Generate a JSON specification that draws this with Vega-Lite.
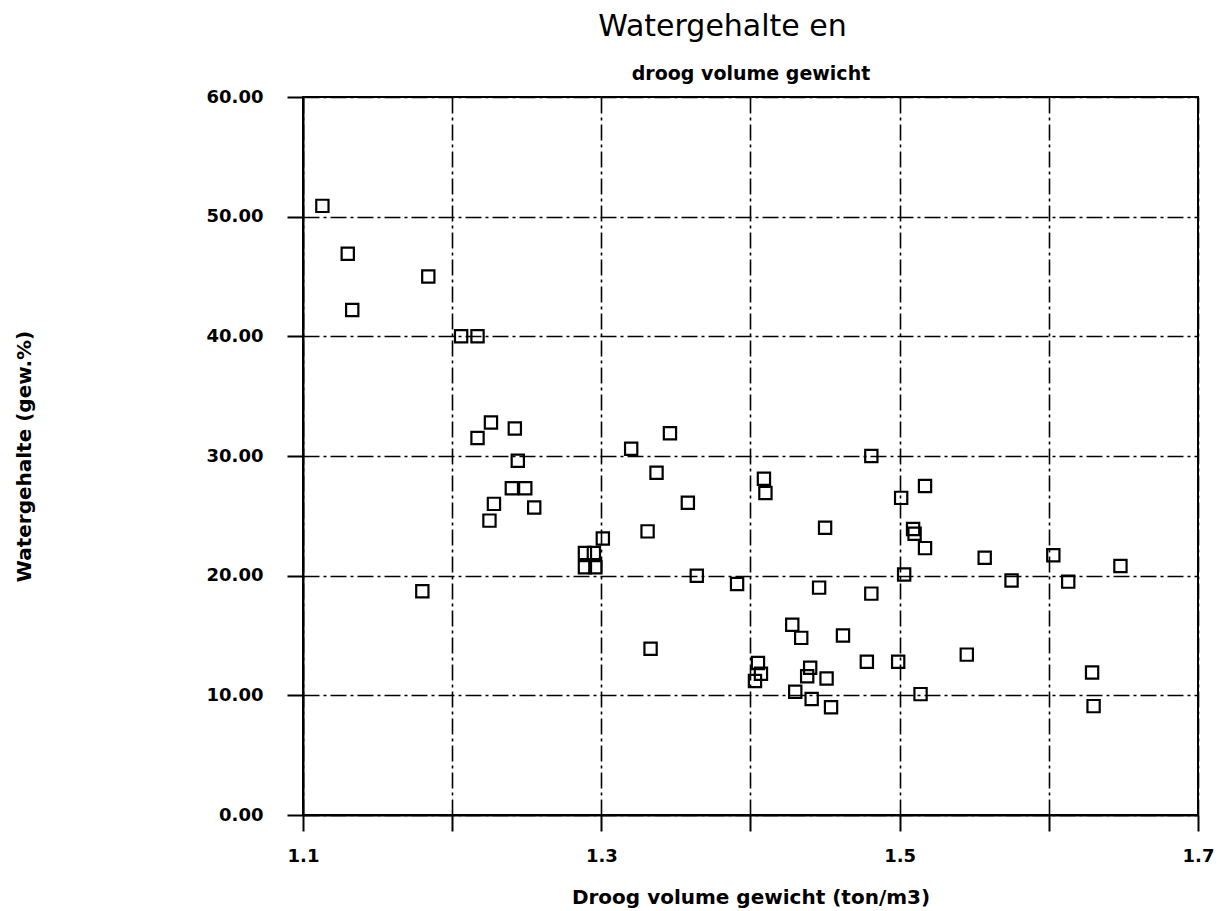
{
  "$schema": "https://vega.github.io/schema/vega-lite/v6.json",
  "autosize": "none",
  "width": 895,
  "height": 718,
  "padding": {"left": 303, "top": 97, "right": 32, "bottom": 96},
  "background": "white",
  "title": {
    "text": "Watergehalte en",
    "anchor": "middle",
    "frame": "group",
    "dx": -28,
    "offset": 22,
    "font": "DejaVu Sans",
    "fontSize": 30,
    "fontWeight": "normal",
    "color": "black"
  },
  "data": {
    "values": [
      {"dichtheid": 1.113, "water": 50.9},
      {"dichtheid": 1.130, "water": 46.9},
      {"dichtheid": 1.133, "water": 42.2},
      {"dichtheid": 1.184, "water": 45.0},
      {"dichtheid": 1.180, "water": 18.7},
      {"dichtheid": 1.206, "water": 40.0},
      {"dichtheid": 1.217, "water": 40.0},
      {"dichtheid": 1.217, "water": 31.5},
      {"dichtheid": 1.226, "water": 32.8},
      {"dichtheid": 1.228, "water": 26.0},
      {"dichtheid": 1.225, "water": 24.6},
      {"dichtheid": 1.242, "water": 32.3},
      {"dichtheid": 1.244, "water": 29.6},
      {"dichtheid": 1.240, "water": 27.3},
      {"dichtheid": 1.249, "water": 27.3},
      {"dichtheid": 1.255, "water": 25.7},
      {"dichtheid": 1.289, "water": 21.9},
      {"dichtheid": 1.295, "water": 21.9},
      {"dichtheid": 1.289, "water": 20.7},
      {"dichtheid": 1.296, "water": 20.7},
      {"dichtheid": 1.301, "water": 23.1},
      {"dichtheid": 1.320, "water": 30.6},
      {"dichtheid": 1.346, "water": 31.9},
      {"dichtheid": 1.337, "water": 28.6},
      {"dichtheid": 1.358, "water": 26.1},
      {"dichtheid": 1.331, "water": 23.7},
      {"dichtheid": 1.364, "water": 20.0},
      {"dichtheid": 1.333, "water": 13.9},
      {"dichtheid": 1.391, "water": 19.3},
      {"dichtheid": 1.481, "water": 30.0},
      {"dichtheid": 1.409, "water": 28.1},
      {"dichtheid": 1.410, "water": 26.9},
      {"dichtheid": 1.450, "water": 24.0},
      {"dichtheid": 1.501, "water": 26.5},
      {"dichtheid": 1.509, "water": 23.9},
      {"dichtheid": 1.510, "water": 23.5},
      {"dichtheid": 1.503, "water": 20.1},
      {"dichtheid": 1.446, "water": 19.0},
      {"dichtheid": 1.481, "water": 18.5},
      {"dichtheid": 1.428, "water": 15.9},
      {"dichtheid": 1.434, "water": 14.8},
      {"dichtheid": 1.462, "water": 15.0},
      {"dichtheid": 1.478, "water": 12.8},
      {"dichtheid": 1.499, "water": 12.8},
      {"dichtheid": 1.405, "water": 12.7},
      {"dichtheid": 1.407, "water": 11.8},
      {"dichtheid": 1.403, "water": 11.2},
      {"dichtheid": 1.440, "water": 12.3},
      {"dichtheid": 1.438, "water": 11.6},
      {"dichtheid": 1.451, "water": 11.4},
      {"dichtheid": 1.430, "water": 10.3},
      {"dichtheid": 1.441, "water": 9.7},
      {"dichtheid": 1.454, "water": 9.0},
      {"dichtheid": 1.514, "water": 10.1},
      {"dichtheid": 1.517, "water": 27.5},
      {"dichtheid": 1.517, "water": 22.3},
      {"dichtheid": 1.557, "water": 21.5},
      {"dichtheid": 1.575, "water": 19.6},
      {"dichtheid": 1.603, "water": 21.7},
      {"dichtheid": 1.613, "water": 19.5},
      {"dichtheid": 1.648, "water": 20.8},
      {"dichtheid": 1.545, "water": 13.4},
      {"dichtheid": 1.629, "water": 11.9},
      {"dichtheid": 1.630, "water": 9.1}
    ]
  },
  "resolve": {"axis": {"x": "independent"}},
  "layer": [
    {
      "mark": {"type": "point", "shape": "square", "filled": false, "size": 150, "stroke": "black", "strokeWidth": 2.2, "opacity": 1},
      "encoding": {
        "x": {
          "field": "dichtheid",
          "type": "quantitative",
          "scale": {"domain": [1.1, 1.7], "nice": false, "zero": false},
          "axis": {
            "orient": "bottom",
            "title": "Droog volume gewicht (ton/m3)",
            "values": [1.1, 1.2, 1.3, 1.4, 1.5, 1.6, 1.7],
            "labelExpr": "indexof(['1.1','1.3','1.5','1.7'], format(datum.value, '.1f')) >= 0 ? format(datum.value, '.1f') : ''",
            "labelFlush": false,
            "labelPadding": 16,
            "titlePadding": 22
          }
        },
        "y": {
          "field": "water",
          "type": "quantitative",
          "scale": {"domain": [0, 60], "nice": false},
          "axis": {
            "title": "Watergehalte (gew.%)",
            "values": [0, 10, 20, 30, 40, 50, 60],
            "format": ".2f",
            "labelFlush": false,
            "labelPadding": 24,
            "titlePadding": 172
          }
        }
      }
    },
    {
      "mark": {"type": "point", "opacity": 0},
      "encoding": {
        "x": {
          "field": "dichtheid",
          "type": "quantitative",
          "axis": {
            "orient": "top",
            "title": "droog volume gewicht",
            "labels": false,
            "ticks": false,
            "domain": false,
            "grid": false,
            "titlePadding": 14,
            "titleFontSize": 19
          }
        },
        "y": {"field": "water", "type": "quantitative"}
      }
    }
  ],
  "config": {
    "font": "DejaVu Sans",
    "view": {"stroke": "black", "strokeWidth": 2},
    "axis": {
      "domainColor": "black",
      "domainWidth": 2,
      "tickColor": "black",
      "tickWidth": 2,
      "tickSize": 16,
      "grid": true,
      "gridColor": "black",
      "gridWidth": 1.6,
      "gridOpacity": 1,
      "gridDash": [16, 4, 3, 4],
      "labelFont": "DejaVu Sans",
      "labelFontWeight": "bold",
      "labelFontSize": 18,
      "labelColor": "black",
      "titleFont": "DejaVu Sans",
      "titleFontWeight": "bold",
      "titleFontSize": 20,
      "titleColor": "black"
    }
  }
}
